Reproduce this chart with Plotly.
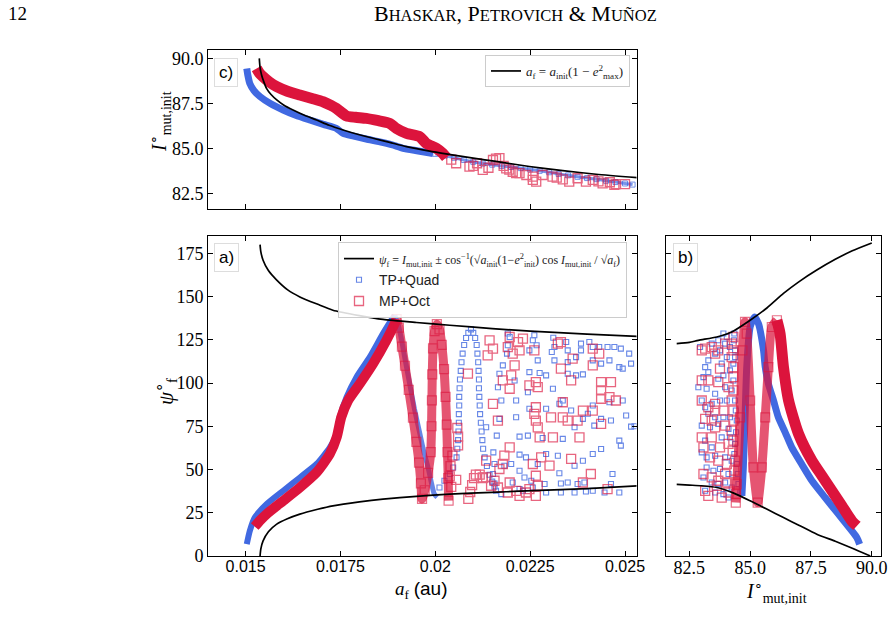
import plotly.graph_objects as go

# ------------------------------------------------------------------ data
# ---- panel c : I_mut,init vs a_f
blue_c_af = [0.01503, 0.01506, 0.01511, 0.01522, 0.01538, 0.01565, 0.01599, 0.01632, 0.01669, 0.01705,
             0.01739, 0.01757, 0.01785, 0.01818, 0.01860, 0.01897, 0.01915, 0.01955, 0.01994]
blue_c_I = [89.44, 89.05, 88.61, 88.22, 87.88, 87.50, 87.14, 86.85, 86.59, 86.35,
            86.13, 85.85, 85.70, 85.54, 85.35, 85.15, 85.02, 84.88, 84.74]
blue_c2_af = [0.02000, 0.02025, 0.02050, 0.02075, 0.02100, 0.02125, 0.02150, 0.02175, 0.02200, 0.02225, 0.02250,
              0.02275, 0.02300, 0.02325, 0.02350, 0.02375, 0.02400, 0.02425, 0.02450, 0.02475, 0.02500, 0.02520]
blue_c2_I = [84.72, 84.62, 84.50, 84.38, 84.28, 84.18, 84.12, 84.05, 83.99, 83.93, 83.86,
             83.78, 83.70, 83.61, 83.53, 83.45, 83.38, 83.32, 83.23, 83.16, 83.08, 83.02]
red_c_af = [0.01529, 0.01536, 0.01546, 0.01562, 0.01582, 0.01610, 0.01643, 0.01675, 0.01704, 0.01725, 0.01739,
            0.01766, 0.01790, 0.01818, 0.01850, 0.01880, 0.01897, 0.01924, 0.01959, 0.01976, 0.02003, 0.02020, 0.02029]
red_c_I = [89.44, 89.20, 88.98, 88.70, 88.43, 88.18, 87.97, 87.78, 87.60, 87.40, 87.23,
           86.81, 86.74, 86.68, 86.55, 86.40, 86.13, 85.85, 85.67, 85.30, 85.02, 84.74, 84.52]
red_c2_af = [0.02042, 0.02055, 0.02090, 0.02100, 0.02110, 0.02125, 0.02140, 0.02152, 0.02160, 0.02169, 0.02180,
             0.02187, 0.02195, 0.02204, 0.02213, 0.02222, 0.02240, 0.02257, 0.02257, 0.02266, 0.02283, 0.02309,
             0.02320, 0.02336, 0.02353, 0.02375, 0.02397, 0.02415, 0.02430, 0.02441, 0.02460, 0.02472, 0.02476, 0.02500]
red_c2_I = [84.40, 84.20, 84.01, 84.05, 84.20, 83.83, 83.95, 84.38, 84.45, 84.48, 84.05,
            83.92, 83.85, 83.73, 83.65, 83.65, 83.55, 83.46, 83.28, 83.18, 83.55, 83.46,
            83.40, 83.31, 83.18, 83.37, 83.18, 83.28, 83.20, 83.09, 83.15, 83.00, 83.05, 83.05]
black_c_af = [0.01536, 0.01538, 0.01542, 0.01548, 0.01555, 0.01567, 0.01582, 0.01600, 0.01625, 0.01655, 0.01687,
              0.01720, 0.01757, 0.01795, 0.01836, 0.01880, 0.01924, 0.01985, 0.02040, 0.02100, 0.02160, 0.02248,
              0.02336, 0.02424, 0.02532]
black_c_I = [90.0, 89.5, 89.08, 88.7, 88.34, 88.0, 87.7, 87.42, 87.14, 86.85, 86.59,
             86.3, 86.04, 85.8, 85.58, 85.35, 85.12, 84.87, 84.68, 84.48, 84.30, 84.02,
             83.79, 83.59, 83.40]

# ---- panel a : psi_f vs a_f
blue_a_af = [0.01503, 0.01511, 0.01524, 0.01555, 0.01599, 0.01643, 0.01687, 0.01722, 0.01740, 0.01748, 0.01766,
             0.01792, 0.01827, 0.01862, 0.01884, 0.01893, 0.01902, 0.01910, 0.01920, 0.01932, 0.01945, 0.01959,
             0.01970, 0.01981, 0.01990, 0.01997, 0.02005]
blue_a_psi = [6.8, 14.5, 22.2, 29.9, 37.7, 45.4, 53.2, 62.8, 70.6, 80.2, 91.8,
              103.4, 115.0, 128.6, 136.3, 139.0, 134.0, 126.0, 114.0, 100.0, 85.0, 71.0,
              60.0, 51.0, 42.0, 36.0, 34.0]
blue_a_pts_af = [0.02011, 0.02024, 0.02038, 0.02047, 0.02056, 0.02058, 0.02060, 0.02061, 0.02062, 0.02062, 0.02063,
                 0.02063, 0.02064, 0.02065, 0.02067, 0.02069, 0.02072, 0.02076, 0.02081, 0.02087, 0.02094, 0.02100,
                 0.02105, 0.02109, 0.02111, 0.02113, 0.02114, 0.02115, 0.02115, 0.02116, 0.02117, 0.02118, 0.02120,
                 0.02122, 0.02124, 0.02126, 0.02130, 0.02136, 0.02143, 0.02150, 0.02156,
                 0.02191, 0.02196, 0.02191, 0.02189, 0.02178, 0.02169, 0.02165, 0.02174, 0.02169, 0.02162, 0.02153,
                 0.02156, 0.02152, 0.02156, 0.02160, 0.02261, 0.02257, 0.02267, 0.02248, 0.02270, 0.02311, 0.02314,
                 0.02307, 0.02314, 0.02345, 0.02349, 0.02349, 0.02384, 0.02384, 0.02371, 0.02406, 0.02415, 0.02432,
                 0.02454, 0.02472, 0.02489, 0.02511, 0.02415, 0.02437, 0.02459, 0.02485, 0.02494, 0.02516, 0.02248,
                 0.02275, 0.02292, 0.02349, 0.02371, 0.02389, 0.02209, 0.02244, 0.02310, 0.02336, 0.02213, 0.02248,
                 0.02292, 0.02327, 0.02358, 0.02415, 0.02459, 0.02494, 0.02402, 0.02437, 0.02463, 0.02503, 0.02516,
                 0.02213, 0.02134, 0.02222, 0.02244, 0.02283, 0.02336, 0.02367, 0.02389, 0.02419, 0.02485, 0.02489,
                 0.02437, 0.02415, 0.02389, 0.02367, 0.02323, 0.02292, 0.02270, 0.02239, 0.02222, 0.02200, 0.02182,
                 0.02222, 0.02235, 0.02253, 0.02288, 0.02327, 0.02349, 0.02375, 0.02393, 0.02415, 0.02446, 0.02467,
                 0.02485, 0.02463, 0.02257, 0.02222, 0.02174, 0.02204, 0.02231, 0.02367, 0.02397, 0.02331, 0.02292,
                 0.02331, 0.02525]
blue_a_pts_psi = [39.6, 43.5, 47.4, 51.2, 57.0, 62, 67, 72, 77, 82, 87,
                  92, 97, 102, 107, 112, 117, 122, 126, 129, 131, 129,
                  126, 122, 117, 112, 107, 102, 97, 92, 87, 82, 77,
                  72, 67, 62, 57, 52, 47, 43, 40,
                  128.6, 126.6, 121.8, 117.0, 110.2, 105.4, 97.6, 89.9, 79.3, 69.6, 59.9,
                  53.2, 47.4, 41.9, 37.7, 127.6, 124.7, 121.8, 118.9, 113.1, 126.2, 120.8,
                  117.9, 113.1, 123.7, 118.9, 112.1, 122.8, 118.9, 115.0, 123.7, 120.8, 120.8,
                  120.8, 120.8, 119.9, 117.0, 113.1, 111.2, 113.1, 109.2, 108.3, 111.2, 106.3,
                  105.8, 104.4, 105.4, 104.4, 105.0, 101.5, 94.7, 96.7, 89.9, 89.9, 85.1,
                  85.1, 88.0, 84.1, 87.0, 88.9, 89.9, 82.2, 79.3, 78.3, 81.2, 74.8,
                  80.2, 74.4, 69.0, 69.6, 68.2, 67.7, 74.4, 79.3, 75.4, 66.7, 63.8,
                  61.9, 59.0, 55.1, 52.2, 58.0, 59.0, 53.2, 57.0, 58.6, 53.2, 52.2,
                  49.3, 45.4, 43.5, 41.6, 47.8, 42.5, 41.6, 42.5, 37.7, 36.7, 47.4,
                  36.7, 41.6, 39.6, 38.7, 35.8, 42.5, 37.7, 36.7, 37.3, 36.7, 36.7,
                  41.9, 75.0]
red_a_af = [0.01524, 0.01540, 0.01555, 0.01599, 0.01643, 0.01687, 0.01722, 0.01740, 0.01752, 0.01770, 0.01801,
            0.01836, 0.01871, 0.01893, 0.01898, 0.01904, 0.01912, 0.01920, 0.01930, 0.01941, 0.01950, 0.01957,
            0.01962, 0.01965, 0.01972, 0.01981, 0.01988, 0.01990, 0.01991, 0.01992, 0.01994, 0.01998, 0.02004,
            0.02011, 0.02017, 0.02023, 0.02027, 0.02030, 0.02032, 0.02034, 0.02035]
red_a_psi = [17.0, 21.0, 24.2, 31.9, 39.6, 48.3, 59.0, 68.6, 80.2, 89.9, 99.6,
             111.2, 124.7, 134.4, 137.0, 132.0, 121.0, 110.0, 96.0, 80.0, 66.0, 54.0,
             42.0, 33.0, 38.0, 48.0, 60.0, 75.0, 90.0, 105.0, 120.0, 130.0, 134.0,
             131.0, 122.0, 108.0, 92.0, 76.0, 60.0, 45.0, 32.0]
red_a_pts_af = [0.02058, 0.02060, 0.02060, 0.02045, 0.02040, 0.02038, 0.02042, 0.02055, 0.02087, 0.02092, 0.02097,
                0.02102, 0.02107, 0.02117, 0.02125,
                0.02143, 0.02152, 0.02138, 0.02196, 0.02218, 0.02231, 0.02191, 0.02204, 0.02222, 0.02261, 0.02209,
                0.02200, 0.02178, 0.02196, 0.02248, 0.02265, 0.02270, 0.02323, 0.02331, 0.02362, 0.02331, 0.02358,
                0.02415, 0.02432, 0.02415, 0.02437, 0.02463, 0.02437, 0.02437, 0.02476, 0.02459, 0.02415, 0.02389,
                0.02336, 0.02265, 0.02261, 0.02265, 0.02270, 0.02305, 0.02336, 0.02349, 0.02375, 0.02437, 0.02380,
                0.02310, 0.02275, 0.02196, 0.02165, 0.02152, 0.02086, 0.02182, 0.02178, 0.02134, 0.02169, 0.02257,
                0.02279, 0.02301, 0.02358, 0.02410, 0.02389, 0.02454, 0.02265, 0.02270, 0.02265, 0.02213, 0.02196,
                0.02191, 0.02165, 0.02134, 0.02125, 0.02147, 0.02222, 0.02239, 0.02248, 0.02156]
red_a_pts_psi = [74, 69, 64, 58, 52, 46, 40, 44, 33, 37, 41,
                 45, 47, 47, 45,
                 124.7, 119.9, 116.0, 126.6, 123.7, 125.7, 120.8, 117.0, 118.9, 118.9, 110.2,
                 104.4, 101.5, 96.7, 98.6, 100.5, 97.6, 122.8, 123.7, 114.1, 108.3, 101.5,
                 119.9, 117.0, 110.2, 100.5, 100.5, 95.7, 90.9, 89.9, 91.8, 84.1, 84.1,
                 88.9, 86.0, 82.2, 78.3, 74.4, 80.2, 80.2, 78.3, 78.3, 76.4, 68.6,
                 68.6, 68.6, 62.8, 78.3, 88.0, 105.4, 58.0, 53.2, 55.1, 50.3, 53.2,
                 57.0, 52.2, 56.1, 47.4, 42.5, 38.7, 46.4, 40.6, 34.8, 37.7, 42.5,
                 36.7, 39.6, 45.4, 45.4, 40.6, 34.8, 36.7, 38.7, 43.5]
black_a_up_af = [0.01538, 0.01540, 0.01546, 0.01560, 0.01582, 0.01610, 0.01643, 0.01690, 0.01730, 0.01800,
                 0.01862, 0.01950, 0.02038, 0.02150, 0.02250, 0.02400, 0.02532]
black_a_up_psi = [180.0, 176.0, 171.0, 165.0, 159.5, 154.0, 149.8, 145.5, 142.1, 139.0,
                  136.8, 135.0, 133.4, 131.5, 130.0, 128.3, 127.0]
black_a_lo_af = [0.01538, 0.01540, 0.01546, 0.01560, 0.01582, 0.01610, 0.01643, 0.01690, 0.01730, 0.01800,
                 0.01862, 0.01950, 0.02038, 0.02150, 0.02222, 0.02400, 0.02532]
black_a_lo_psi = [0.0, 4.0, 8.7, 14.0, 18.4, 21.5, 24.2, 27.0, 29.0, 31.3,
                  32.9, 34.5, 35.8, 36.8, 37.5, 39.0, 40.6]

# ---- panel b : psi_f vs I_mut,init
blue_b_I = [89.50, 89.39, 88.63, 88.08, 87.54, 87.12, 86.71, 86.44, 86.16, 85.96, 85.75, 85.62, 85.55, 85.34,
            85.18, 85.00, 84.86, 84.79, 84.72, 84.66]
blue_b_psi = [6.8, 10.6, 24.2, 33.8, 43.5, 53.1, 62.8, 71.5, 80.2, 89.9, 99.6, 109.2, 118.9, 134.4,
              138.2, 132.4, 109.2, 80.2, 51.2, 34.8]
red_b_I = [89.39, 89.18, 88.77, 88.36, 87.95, 87.54, 86.99, 86.58, 86.37, 86.23, 86.10, 85.89, 85.75, 85.62,
           85.48, 85.31, 85.13, 85.00, 84.86, 84.79, 84.68, 84.59, 84.45, 84.41]
red_b_psi = [17.4, 20.3, 29.0, 37.7, 46.4, 55.1, 70.6, 89.9, 109.2, 128.6, 136.3, 132.4, 109.2, 80.2,
             51.2, 30.9, 51.2, 89.9, 128.6, 135.3, 118.9, 80.2, 41.6, 30.9]
blue_b_pts_I = [83.90, 83.97, 84.04, 83.76, 83.56, 83.15, 83.28, 83.08, 83.69, 83.90, 84.17, 84.31, 84.38, 84.38,
                84.34, 84.35, 84.31, 84.24, 84.38, 84.41, 84.45, 84.42, 84.38, 84.35, 84.45, 84.49, 84.52, 84.59,
                83.97, 83.56, 83.21, 83.01, 83.15, 83.42, 83.76, 84.04, 83.28, 83.56, 83.90, 84.17, 83.01, 83.35,
                83.69, 84.11, 83.15, 83.42, 83.83, 84.17, 83.01, 83.21, 83.56, 83.97, 84.24, 83.21, 83.49, 83.76,
                84.11, 83.08, 83.42, 83.69, 83.97, 84.24, 83.15, 83.56, 83.90, 84.11, 82.94, 83.42, 83.69, 84.17,
                83.28, 83.83, 82.87, 84.04]
blue_b_pts_psi = [128.6, 122.8, 126.6, 118.9, 117.0, 109.2, 106.3, 103.4, 102.5, 104.4, 107.3, 111.2, 115.0, 118.9,
                  124.7, 128.6, 101.5, 95.7, 89.9, 84.1, 78.3, 71.5, 64.8, 59.0, 53.2, 47.4, 41.6, 36.7,
                  97.6, 93.8, 96.7, 89.9, 86.0, 88.0, 89.9, 89.9, 82.2, 80.2, 80.2, 80.2, 75.4, 74.4,
                  76.4, 73.5, 66.7, 62.8, 68.6, 68.6, 59.9, 57.0, 58.0, 57.0, 55.1, 51.2, 49.3, 50.3,
                  47.4, 45.4, 42.5, 41.6, 42.5, 39.6, 37.7, 36.7, 35.8, 33.8, 120.8, 122.8, 124.7, 120.8,
                  113.1, 111.2, 97.6, 115.0]
red_b_pts_I = [83.01, 83.15, 83.42, 83.56, 83.69, 83.97, 84.24, 84.31, 84.31, 84.24, 84.31, 84.31, 83.01, 83.28,
               83.69, 83.76, 84.11, 84.31, 84.24, 84.31, 84.31, 84.24, 84.31, 84.28, 84.38, 84.35, 84.38, 84.42,
               83.01, 83.28, 83.56, 83.15, 83.42, 83.90, 83.97, 83.56, 83.01, 83.42, 83.76, 84.11, 83.08, 83.35,
               83.69, 84.04, 83.08, 83.42, 83.69, 84.04, 83.15, 83.28, 83.83, 84.11, 83.63, 83.97, 83.56]
red_b_pts_psi = [118.9, 119.9, 120.8, 117.0, 118.9, 122.8, 122.8, 126.6, 118.9, 115.0, 109.2, 103.4, 101.5, 101.5,
                 100.5, 108.3, 97.6, 95.7, 89.9, 84.1, 78.3, 72.5, 66.7, 60.9, 55.1, 49.3, 42.5, 35.8,
                 89.9, 86.0, 84.1, 79.3, 78.3, 84.1, 75.4, 74.4, 68.6, 68.6, 62.8, 64.8, 62.8, 57.0,
                 55.1, 53.2, 47.4, 45.4, 43.5, 42.5, 37.7, 34.8, 33.8, 36.7, 40.6, 47.4, 88.0]
black_b_up_I = [81.98, 82.5, 82.87, 83.63, 84.24, 85.0, 85.7, 86.37, 87.0, 87.74, 88.5, 89.2, 90.0]
black_b_up_psi = [122.8, 123.5, 124.7, 126.6, 129.5, 136.3, 143.5, 151.8, 158.5, 165.3, 171.5, 176.5, 181.0]
black_b_lo_I = [81.98, 82.5, 83.0, 83.63, 84.3, 85.0, 85.7, 86.37, 87.0, 87.74, 88.5, 89.2, 89.94]
black_b_lo_psi = [41.4, 41.0, 40.6, 39.6, 36.5, 31.9, 27.0, 22.2, 17.8, 12.6, 8.5, 4.5, 0.0]

# ---- ticks / labels
af_ticks = [0.015, 0.0175, 0.02, 0.0225, 0.025]
af_ticktext = ["0.015", "0.0175", "0.02", "0.0225", "0.025"]
psi_ticks = [0, 25, 50, 75, 100, 125, 150, 175]
I_ticks = [82.5, 85.0, 87.5, 90.0]
I_ticktext = ["82.5", "85.0", "87.5", "90.0"]
legend_c_label = "<i>a</i><sub>f</sub> = <i>a</i><sub>init</sub>(1 − <i>e</i><sup>2</sup><sub>max</sub>)"
legend_a_label = ("<i>ψ</i><sub>f</sub> = <i>I</i><sub>mut,init</sub> ± cos<sup>−1</sup>"
                  "(√<i>a</i><sub>init</sub>(1−<i>e</i><sup>2</sup><sub>init</sub>) cos <i>I</i><sub>mut,init</sub>"
                  " / √<i>a</i><sub>f</sub>)")
series_names = ["TP+Quad", "MP+Oct"]

# ------------------------------------------------------------------ style
W, H = 893, 630
BLUE = "#4169E1"
RED = "#DC143C"
SERIF = "Liberation Serif"
SANS = "Liberation Sans"


def fx(p):
    return p / W


def fy(p):
    return 1 - p / H


fig = go.Figure()


def band(x, y, xa, ya, color, width, opacity=1.0):
    fig.add_trace(go.Scatter(x=x, y=y, xaxis=xa, yaxis=ya, mode="lines",
                             line=dict(color=color, width=width, shape="spline", smoothing=0.6),
                             opacity=opacity, showlegend=False, hoverinfo="skip"))


def pts(x, y, xa, ya, color, size, lw, opacity, name=None, show=False, legend="legend2", rank=None):
    fig.add_trace(go.Scatter(x=x, y=y, xaxis=xa, yaxis=ya, mode="markers",
                             marker=dict(symbol="square-open", size=size, color=color,
                                         line=dict(width=lw, color=color)),
                             opacity=opacity, name=name, showlegend=show, legend=legend,
                             legendrank=rank if rank else 1000, hoverinfo="skip"))


def black(x, y, xa, ya, name=None, show=False, legend="legend", rank=1):
    fig.add_trace(go.Scatter(x=x, y=y, xaxis=xa, yaxis=ya, mode="lines",
                             line=dict(color="black", width=1.7, shape="spline", smoothing=0.6),
                             name=name, showlegend=show, legend=legend, legendrank=rank, hoverinfo="skip"))


# panel c (x3, y3)
band(blue_c_af, blue_c_I, "x3", "y3", BLUE, 7)
band(blue_c2_af, blue_c2_I, "x3", "y3", BLUE, 3, 0.7)
pts(blue_c2_af, blue_c2_I, "x3", "y3", BLUE, 5, 1, 0.75)
band(red_c_af, red_c_I, "x3", "y3", RED, 11)
pts(red_c2_af, red_c2_I, "x3", "y3", RED, 9, 1.3, 0.65)
black(black_c_af, black_c_I, "x3", "y3", name=legend_c_label, show=True, legend="legend")

# panel a (x, y)
band(blue_a_af[:16], blue_a_psi[:16], "x", "y", BLUE, 6)
band(blue_a_af[15:], blue_a_psi[15:], "x", "y", BLUE, 5, 0.8)
pts(blue_a_pts_af, blue_a_pts_psi, "x", "y", BLUE, 5, 1.1, 0.8, name=series_names[0], show=True, rank=2)
band(red_a_af[:15], red_a_psi[:15], "x", "y", RED, 10)
band(red_a_af[14:], red_a_psi[14:], "x", "y", RED, 9, 0.72)
pts(red_a_af[14:], red_a_psi[14:], "x", "y", RED, 9, 1.2, 0.6)
pts(red_a_pts_af, red_a_pts_psi, "x", "y", RED, 9, 1.3, 0.65, name=series_names[1], show=True, rank=3)
black(black_a_up_af + [None] + black_a_lo_af, black_a_up_psi + [None] + black_a_lo_psi, "x", "y",
      name="<span style='font-family:Liberation Serif;font-size:12px'>" + legend_a_label + "</span>",
      show=True, legend="legend2", rank=1)

# panel b (x2, y2)
band(blue_b_I, blue_b_psi, "x2", "y2", BLUE, 7)
pts(blue_b_pts_I, blue_b_pts_psi, "x2", "y2", BLUE, 5, 1.1, 0.8)
band(red_b_I[:11], red_b_psi[:11], "x2", "y2", RED, 11)
band(red_b_I[10:], red_b_psi[10:], "x2", "y2", RED, 9, 0.72)
pts(red_b_I[10:], red_b_psi[10:], "x2", "y2", RED, 9, 1.2, 0.6)
pts(red_b_pts_I, red_b_pts_psi, "x2", "y2", RED, 9, 1.3, 0.65)
black(black_b_up_I, black_b_up_psi, "x2", "y2")
black(black_b_lo_I, black_b_lo_psi, "x2", "y2")

axis_common = dict(showgrid=False, zeroline=False, showline=True, linecolor="black", linewidth=1,
                   mirror="ticks", ticks="inside", ticklen=5, tickwidth=1, tickcolor="black",
                   automargin=False)

xdom = [fx(208), fx(636.5)]
ydom_ab = [fy(556), fy(236)]
ydom_c = [fy(209), fy(50)]

fig.update_layout(
    width=W, height=H, autosize=False, margin=dict(l=0, r=0, t=0, b=0, pad=0, autoexpand=False),
    paper_bgcolor="white", plot_bgcolor="white",
    xaxis=dict(domain=xdom, anchor="y", range=[0.014008, 0.025303], tickvals=af_ticks,
               ticktext=af_ticktext, tickfont=dict(family=SANS, size=16, color="black"),
               ticklabelstandoff=-4, **axis_common),
    yaxis=dict(domain=ydom_ab, anchor="x", range=[0, 185], tickvals=psi_ticks,
               tickfont=dict(family=SERIF, size=18, color="black"), **axis_common),
    xaxis2=dict(domain=[fx(666), fx(881)], anchor="y2", range=[81.54, 90.38], tickvals=I_ticks,
                ticktext=I_ticktext, tickfont=dict(family=SERIF, size=18, color="black"),
                ticklabelstandoff=-5, **axis_common),
    yaxis2=dict(domain=ydom_ab, anchor="x2", range=[0, 185], tickvals=psi_ticks, showticklabels=False,
                **axis_common),
    xaxis3=dict(domain=xdom, anchor="y3", range=[0.014008, 0.025303], tickvals=af_ticks,
                showticklabels=False, **axis_common),
    yaxis3=dict(domain=ydom_c, anchor="x3", range=[81.67, 90.46], tickvals=I_ticks, ticktext=I_ticktext,
                tickfont=dict(family=SERIF, size=18, color="black"), **axis_common),
    legend=dict(x=fx(485), y=fy(55), xanchor="left", yanchor="top", bgcolor="rgba(255,255,255,0.85)",
                bordercolor="#cccccc", borderwidth=1, font=dict(family=SERIF, size=13, color="#222"),
                itemwidth=30, tracegroupgap=0),
    legend2=dict(x=fx(338), y=fy(242), xanchor="left", yanchor="top", bgcolor="rgba(255,255,255,0.85)",
                 bordercolor="#cccccc", borderwidth=1, font=dict(family=SANS, size=14, color="#222"),
                 itemwidth=30, tracegroupgap=0, traceorder="normal"),
)

ann = []
# header
ann.append(dict(text="12", x=fx(6), y=fy(13), xref="paper", yref="paper", xanchor="left", yanchor="middle",
                showarrow=False, font=dict(family=SERIF, size=19, color="black")))
sc = "font-size:16.5px"
ann.append(dict(text=("B<span style='%s'>HASKAR</span>, P<span style='%s'>ETROVICH</span> &amp; "
                      "M<span style='%s'>UÑOZ</span>") % (sc, sc, sc),
                x=fx(515), y=fy(13), xref="paper", yref="paper", xanchor="center", yanchor="middle",
                showarrow=False, font=dict(family=SERIF, size=22, color="black")))
# panel labels
for t, cx, cy in [("c)", 226, 72), ("a)", 226, 257), ("b)", 685, 257)]:
    ann.append(dict(text=t, x=fx(cx), y=fy(cy), xref="paper", yref="paper", xanchor="center",
                    yanchor="middle", showarrow=False, font=dict(family=SANS, size=17, color="black"),
                    bgcolor="white", bordercolor="#dddddd", borderwidth=1, borderpad=4))
# axis titles
ann.append(dict(text="<i>I</i><sup>∘</sup><sub>mut,init</sub>", x=fx(160), y=fy(122), xref="paper",
                yref="paper", textangle=-90, showarrow=False, xanchor="center", yanchor="middle",
                font=dict(family=SERIF, size=20, color="black")))
ann.append(dict(text="<i>ψ</i><sup>∘</sup><sub>f</sub>", x=fx(165), y=fy(392), xref="paper",
                yref="paper", textangle=-90, showarrow=False, xanchor="center", yanchor="middle",
                font=dict(family=SERIF, size=21, color="black")))
ann.append(dict(text="<i>a</i><sub>f</sub> <span style='font-family:Liberation Sans'>(au)</span>",
                x=fx(421), y=fy(590), xref="paper", yref="paper", showarrow=False, xanchor="center",
                yanchor="middle", font=dict(family=SERIF, size=19, color="black")))
ann.append(dict(text="<i>I</i><sup>∘</sup><sub>mut,init</sub>", x=fx(776), y=fy(592), xref="paper",
                yref="paper", showarrow=False, xanchor="center", yanchor="middle",
                font=dict(family=SERIF, size=20, color="black")))
fig.update_layout(annotations=ann)

fig.write_html("out.html")
